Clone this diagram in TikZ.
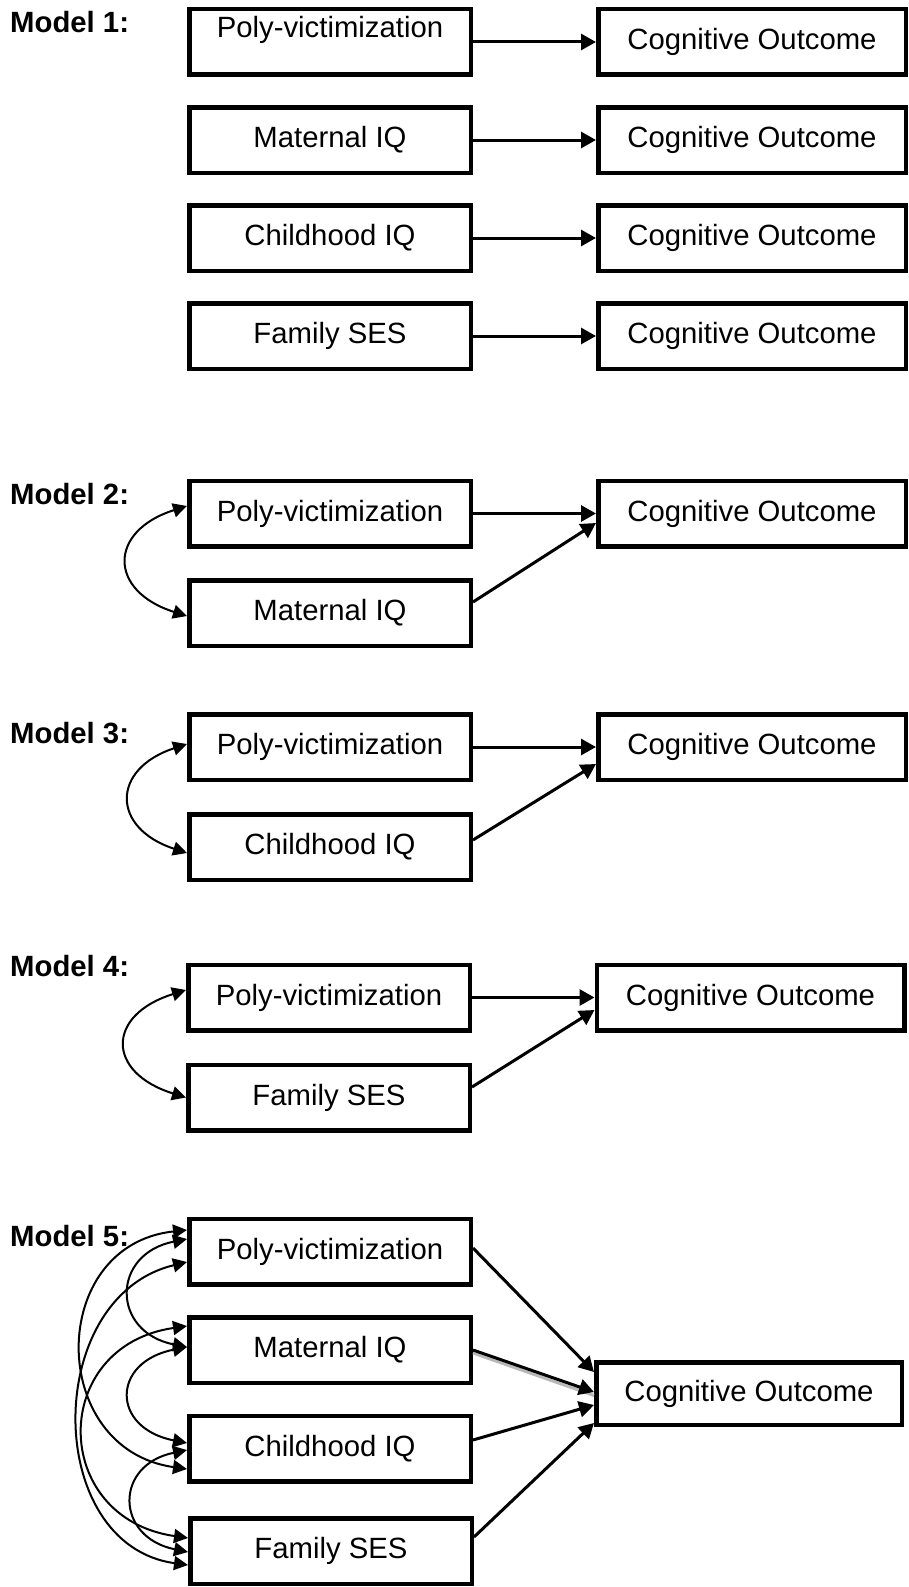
\documentclass[tikz,border=0pt]{standalone}
\usepackage{fontspec}
\setmainfont{Liberation Sans}
\usetikzlibrary{arrows.meta}
\begin{document}
\begin{tikzpicture}[x=1pt,y=-1pt,
  basebox/.style={draw, line width=4.5pt, inner sep=0pt, minimum height=65.5pt, font=\fontsize{29.3}{34}\selectfont},
  lbox/.style={basebox, minimum width=281.5pt},
  rbox/.style={basebox, minimum width=307.5pt},
  txt/.style={inner sep=0pt, font=\fontsize{29.3}{34}\selectfont},
  patharrow/.style={line width=3pt, -{Triangle[length=15pt,width=16pt]}},
  cov/.style={line width=2pt, {Triangle[length=14pt,width=14pt]}-{Triangle[length=14pt,width=14pt]}},
  mlabel/.style={anchor=west, inner sep=0pt, font=\fontsize{29.3}{34}\selectfont\bfseries}]
\useasboundingbox (0,0) rectangle (909,1587);

% ---------- Model 1 ----------
\node[mlabel] (l1) at (10,22) {Model 1:};
\node[lbox] (m1a) at (330,42) {};
\node[txt] (m1at) at (330,30) {Poly-victimization};
\node[rbox] (m1b) at (752,42) {Cognitive Outcome};
\node[lbox] (m1c) at (330,140) {Maternal IQ};
\node[rbox] (m1d) at (752,140) {Cognitive Outcome};
\node[lbox] (m1e) at (330,238) {Childhood IQ};
\node[rbox] (m1f) at (752,238) {Cognitive Outcome};
\node[lbox] (m1g) at (330,336) {Family SES};
\node[rbox] (m1h) at (752,336) {Cognitive Outcome};
\draw[patharrow] (m1a.east) -- (m1b.west);
\draw[patharrow] (m1c.east) -- (m1d.west);
\draw[patharrow] (m1e.east) -- (m1f.west);
\draw[patharrow] (m1g.east) -- (m1h.west);

% ---------- Model 2 ----------
\node[mlabel] (l2) at (10,494) {Model 2:};
\node[lbox] (m2a) at (330,513.5) {Poly-victimization};
\node[lbox] (m2b) at (330,613) {Maternal IQ};
\node[rbox] (m2c) at (752,513.5) {Cognitive Outcome};
\draw[patharrow] (m2a.east) -- (m2c.west);
\draw[patharrow] ([yshift=11pt]m2b.east) -- ([yshift=-9.5pt]m2c.west);
\draw[cov] ([yshift=7.5pt]m2a.west) .. controls +(-79,25) and +(-79,-25) .. ([yshift=-3pt]m2b.west);

% ---------- Model 3 ----------
\node[mlabel] (l3) at (10,733) {Model 3:};
\node[lbox] (m3a) at (330,747) {Poly-victimization};
\node[lbox] (m3b) at (330,847) {Childhood IQ};
\node[rbox] (m3c) at (752,747) {Cognitive Outcome};
\draw[patharrow] (m3a.east) -- (m3c.west);
\draw[patharrow] ([yshift=7pt]m3b.east) -- ([yshift=-17pt]m3c.west);
\draw[cov] ([yshift=3pt]m3a.west) .. controls +(-76,25) and +(-76,-25) .. ([yshift=-6pt]m3b.west);

% ---------- Model 4 ----------
\node[mlabel] (l4) at (10,966) {Model 4:};
\node[lbox] (m4a) at (329,997.5) {Poly-victimization};
\node[lbox] (m4b) at (329,1097.5) {Family SES};
\node[rbox] (m4c) at (750.5,997.5) {Cognitive Outcome};
\draw[patharrow] (m4a.east) -- (m4c.west);
\draw[patharrow] ([yshift=10.5pt]m4b.east) -- ([yshift=-12.5pt]m4c.west);
\draw[cov] ([yshift=7.5pt]m4a.west) .. controls +(-80,25) and +(-80,-25) .. (m4b.west);

% ---------- Model 5 ----------
\node[mlabel] (l5) at (10,1236) {Model 5:};
\node[lbox] (m5a) at (330,1251.5) {Poly-victimization};
\node[lbox] (m5b) at (330,1350) {Maternal IQ};
\node[lbox] (m5c) at (330,1448.5) {Childhood IQ};
\node[lbox] (m5d) at (331,1551) {Family SES};
\node[basebox, minimum width=305.5pt, minimum height=62.5pt] (m5e) at (749,1393.5) {Cognitive Outcome};
\draw[patharrow] ([yshift=3.5pt]m5a.east) -- ([yshift=21.5pt]m5e.west);
\draw[line width=3pt, gray!55] ([yshift=-3pt]m5b.east) -- ([yshift=-2pt]m5e.west);
\draw[patharrow] (m5b.east) -- ([yshift=1.5pt]m5e.west);
\draw[patharrow] ([yshift=8.5pt]m5c.east) -- ([yshift=-11.5pt]m5e.west);
\draw[patharrow] ([yshift=14pt]m5d.east) -- ([yshift=-29.5pt]m5e.west);
% covariances
\draw[cov] ([yshift=12.5pt]m5a.west) .. controls +(-76,15) and +(-76,-15) .. ([yshift=3pt]m5b.west);
\draw[cov] ([yshift=3pt]m5b.west) .. controls +(-76,15) and +(-76,-15) .. ([yshift=5.5pt]m5c.west);
\draw[cov] ([yshift=-1.5pt]m5c.west) .. controls +(-73,15) and +(-73,-15) .. ([yshift=-1pt]m5d.west);
\draw[cov] ([yshift=21.5pt]m5a.west) .. controls +(-140,15) and +(-140,-20) .. ([yshift=-20.5pt]m5c.west);
\draw[cov] ([yshift=-10.5pt]m5a.west) .. controls +(-145,35) and +(-145,-20) .. ([yshift=-14pt]m5d.west);
\draw[cov] ([yshift=24pt]m5b.west) .. controls +(-138,20) and +(-138,-20) .. ([yshift=13pt]m5d.west);
\end{tikzpicture}
\end{document}
